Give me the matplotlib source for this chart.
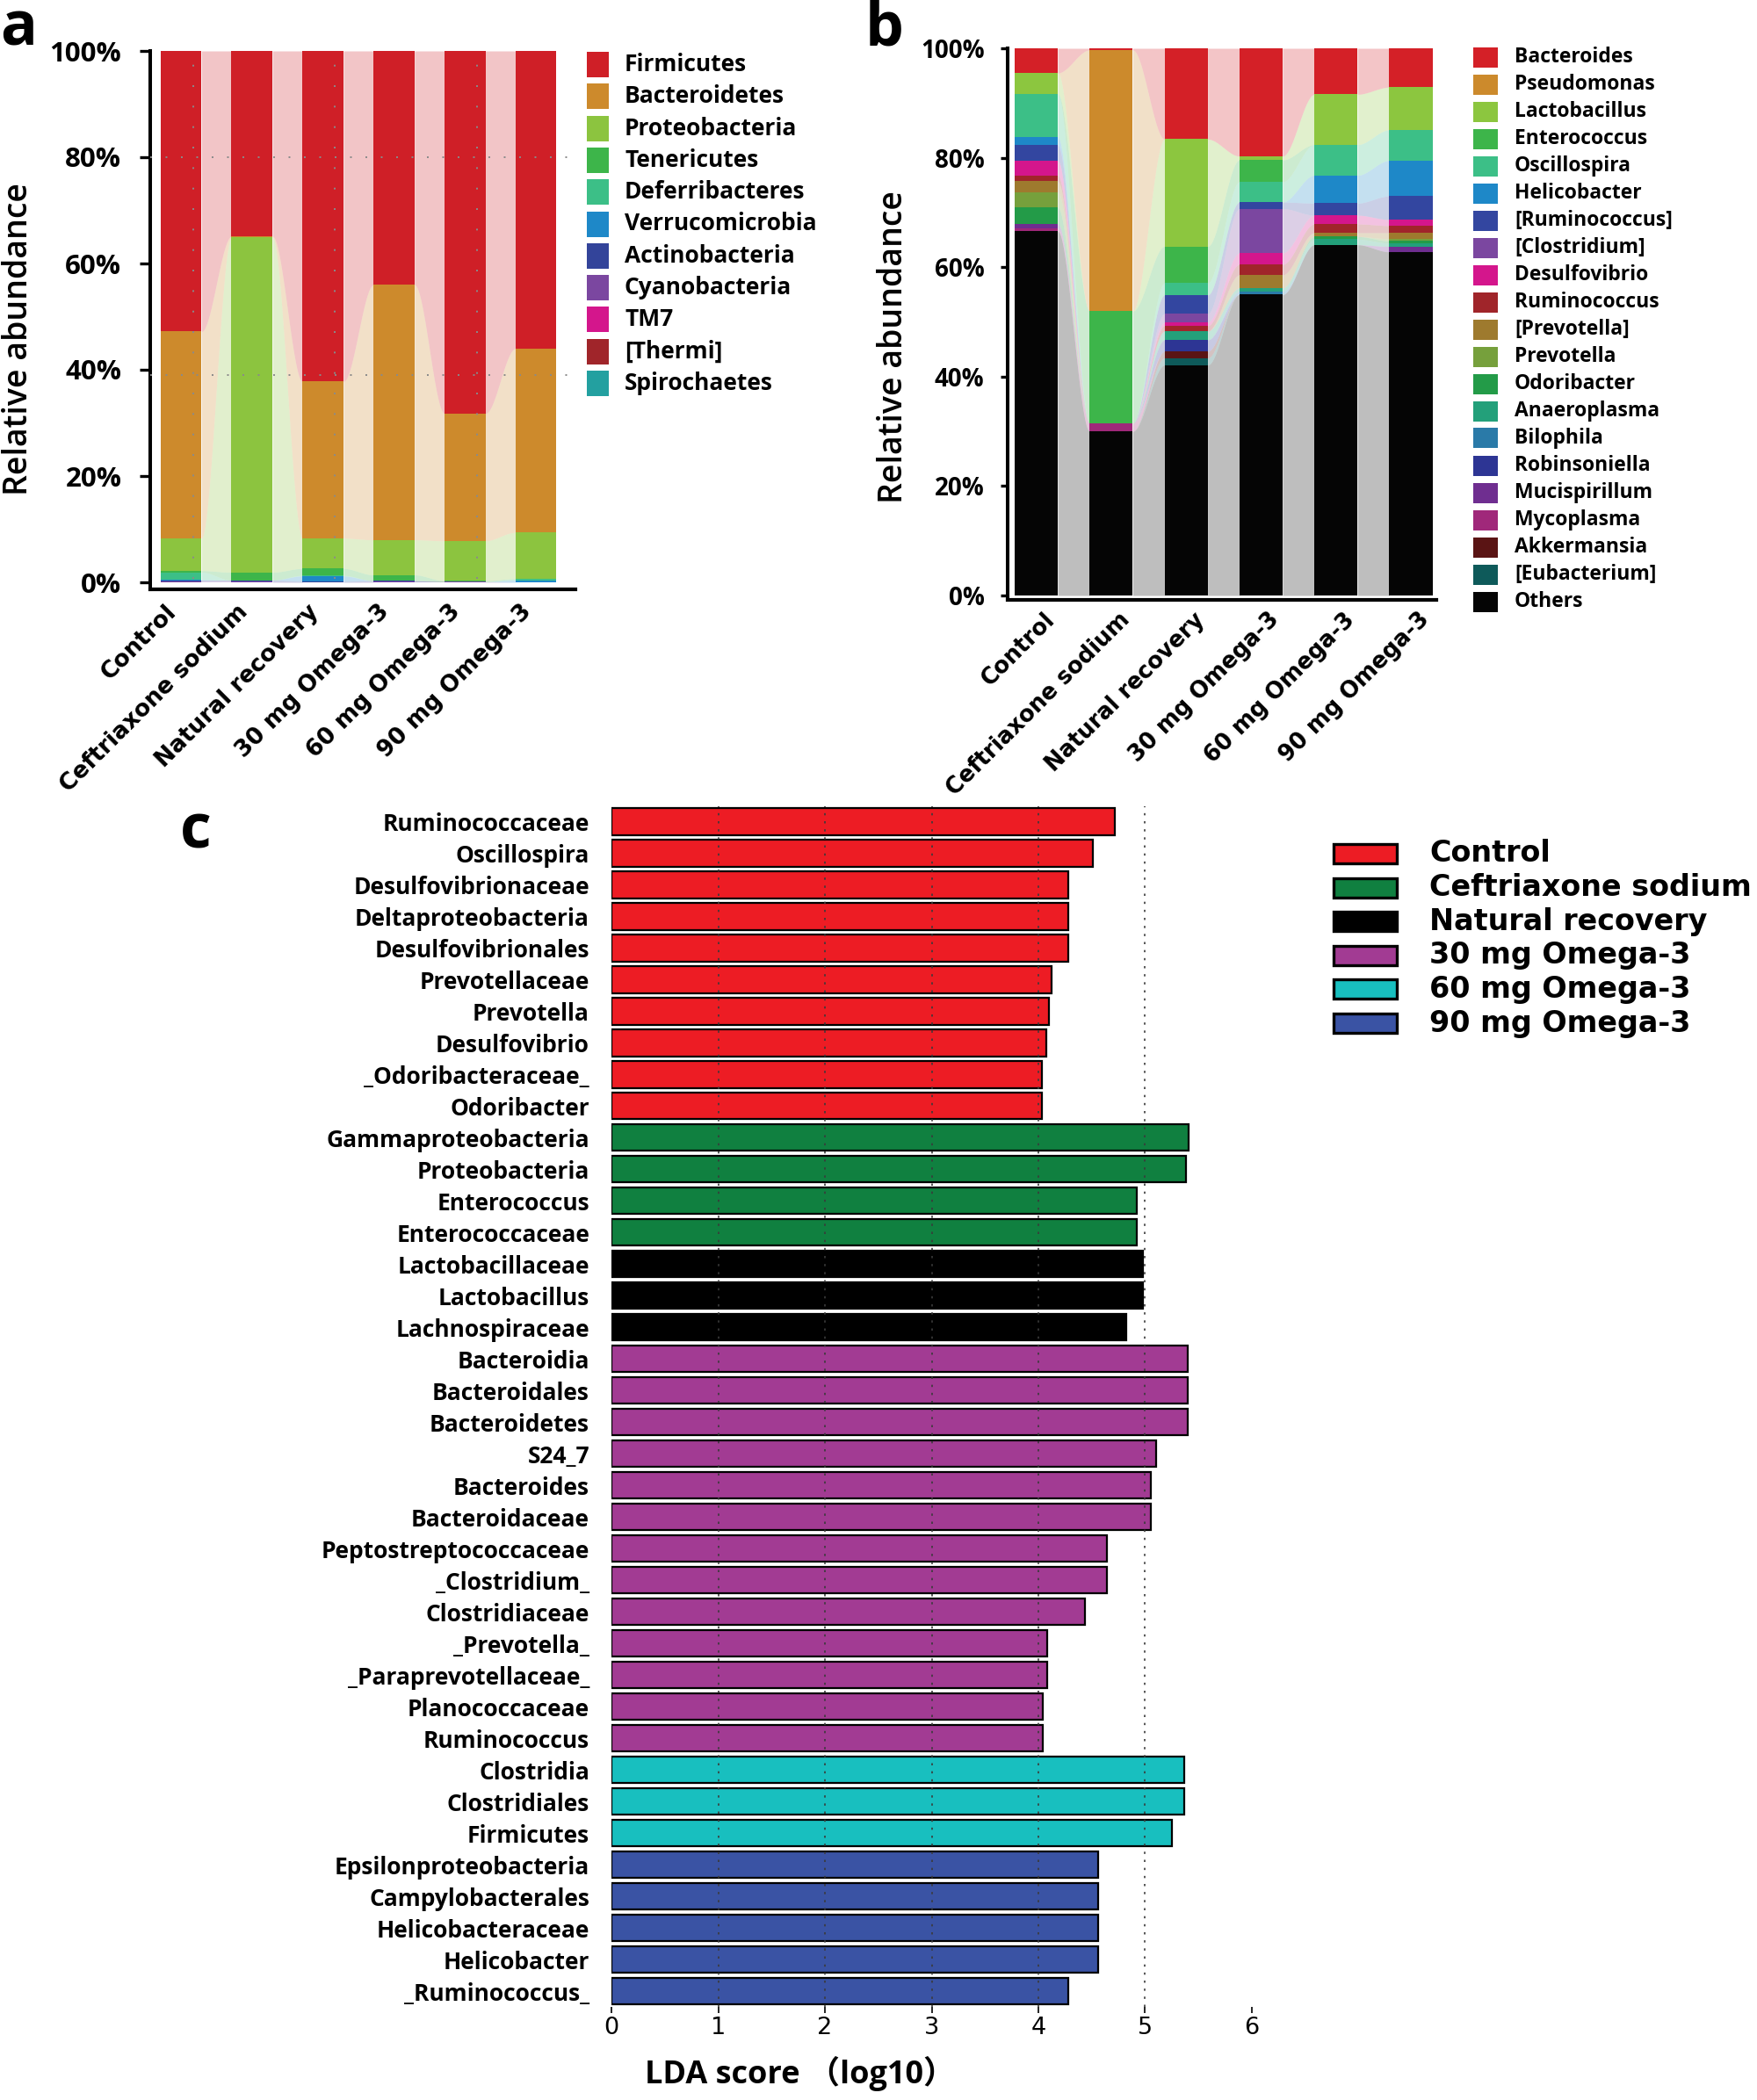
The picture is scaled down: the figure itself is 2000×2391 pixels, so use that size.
import numpy as np
import matplotlib
matplotlib.use('Agg')
import matplotlib.pyplot as plt
from matplotlib.patches import Rectangle
from matplotlib.transforms import ScaledTranslation

# ---------------- data ----------------
groups = ['Control', 'Ceftriaxone sodium', 'Natural recovery',
          '30 mg Omega-3', '60 mg Omega-3', '90 mg Omega-3']

# panel a : phylum level (%) ; legend order = top of stack first
phyla = ['Firmicutes', 'Bacteroidetes', 'Proteobacteria', 'Tenericutes',
         'Deferribacteres', 'Verrucomicrobia', 'Actinobacteria',
         'Cyanobacteria', 'TM7', '[Thermi]', 'Spirochaetes']
phyla_colors = ['#cf1f27', '#cd8a2c', '#8cc43f', '#3db54a', '#3cbf87',
                '#1e88c8', '#33449a', '#7b47a0', '#d4168c', '#a0252a', '#23a0a0']
firmicutes      = [52.8, 34.9, 62.2, 44.0, 68.2, 56.0]
bacteroidetes   = [38.9, 0.2, 29.5, 48.0, 24.0, 34.6]
proteobacteria  = [6.1, 63.0, 5.7, 6.6, 7.5, 8.7]
tenericutes     = [0.3, 1.5, 1.3, 1.1, 0.2, 0.1]
deferribacteres = [1.4, 0.0, 0.1, 0.0, 0.0, 0.2]
verrucomicrobia = [0.1, 0.0, 1.0, 0.0, 0.0, 0.4]
actinobacteria  = [0.3, 0.3, 0.2, 0.2, 0.0, 0.0]
cyanobacteria   = [0.1, 0.1, 0.0, 0.1, 0.1, 0.0]
tm7             = [0.0, 0.0, 0.0, 0.0, 0.0, 0.0]
thermi          = [0.0, 0.0, 0.0, 0.0, 0.0, 0.0]
spirochaetes    = [0.0, 0.0, 0.0, 0.0, 0.0, 0.0]
phyla_values = [firmicutes, bacteroidetes, proteobacteria, tenericutes,
                deferribacteres, verrucomicrobia, actinobacteria,
                cyanobacteria, tm7, thermi, spirochaetes]

# panel b : genus level (%)
genera = ['Bacteroides', 'Pseudomonas', 'Lactobacillus', 'Enterococcus',
          'Oscillospira', 'Helicobacter', '[Ruminococcus]', '[Clostridium]',
          'Desulfovibrio', 'Ruminococcus', '[Prevotella]', 'Prevotella',
          'Odoribacter', 'Anaeroplasma', 'Bilophila', 'Robinsoniella',
          'Mucispirillum', 'Mycoplasma', 'Akkermansia', '[Eubacterium]', 'Others']
genera_colors = ['#d42027', '#cc8a2c', '#8cc63f', '#3db54a', '#3cbf87',
                 '#1e88c8', '#3346a0', '#7b47a0', '#d4168c', '#a0252a',
                 '#9e7a2e', '#76a03c', '#239b48', '#23a07a', '#2a7aa8',
                 '#2d3594', '#6f2e90', '#a0287a', '#5a1414', '#0e5a5a', '#050505']
g_bacteroides   = [4.5, 0.3, 16.6, 19.7, 8.4, 7.1]
g_pseudomonas   = [0.0, 47.7, 0.0, 0.0, 0.0, 0.0]
g_lactobacillus = [3.8, 0.0, 19.6, 0.7, 9.2, 7.8]
g_enterococcus  = [0.0, 20.5, 6.7, 4.0, 0.0, 0.0]
g_oscillospira  = [7.9, 0.0, 2.2, 3.7, 5.6, 5.6]
g_helicobacter  = [1.5, 0.0, 0.0, 0.0, 5.1, 6.5]
g_ruminococcus_b = [2.8, 0.0, 3.4, 1.2, 2.2, 4.3]
g_clostridium_b = [0.0, 0.0, 1.6, 8.1, 0.0, 0.0]
g_desulfovibrio = [2.7, 0.0, 0.6, 2.1, 1.6, 1.1]
g_ruminococcus  = [1.1, 0.0, 1.0, 1.9, 1.6, 1.3]
g_prevotella_b  = [2.0, 0.0, 0.0, 2.4, 0.7, 1.1]
g_prevotella    = [2.8, 0.0, 0.0, 0.0, 0.0, 0.4]
g_odoribacter   = [3.0, 0.0, 0.0, 0.0, 0.5, 0.4]
g_anaeroplasma  = [0.0, 0.0, 1.6, 0.6, 1.0, 0.6]
g_bilophila     = [0.0, 0.0, 0.0, 0.6, 0.0, 0.0]
g_robinsoniella = [0.0, 0.0, 2.1, 0.0, 0.0, 0.0]
g_mucispirillum = [0.8, 0.0, 0.0, 0.0, 0.0, 1.0]
g_mycoplasma    = [0.5, 1.5, 0.0, 0.0, 0.0, 0.0]
g_akkermansia   = [0.0, 0.0, 1.2, 0.0, 0.0, 0.0]
g_eubacterium   = [0.0, 0.0, 1.3, 0.0, 0.0, 0.0]
g_others        = [66.6, 30.0, 42.1, 55.0, 64.1, 62.8]
genera_values = [g_bacteroides, g_pseudomonas, g_lactobacillus, g_enterococcus,
                 g_oscillospira, g_helicobacter, g_ruminococcus_b, g_clostridium_b,
                 g_desulfovibrio, g_ruminococcus, g_prevotella_b, g_prevotella,
                 g_odoribacter, g_anaeroplasma, g_bilophila, g_robinsoniella,
                 g_mucispirillum, g_mycoplasma, g_akkermansia, g_eubacterium, g_others]

# panel c : LEfSe LDA scores
lda_taxa = ['Ruminococcaceae', 'Oscillospira', 'Desulfovibrionaceae',
            'Deltaproteobacteria', 'Desulfovibrionales', 'Prevotellaceae',
            'Prevotella', 'Desulfovibrio', '_Odoribacteraceae_', 'Odoribacter',
            'Gammaproteobacteria', 'Proteobacteria', 'Enterococcus',
            'Enterococcaceae', 'Lactobacillaceae', 'Lactobacillus',
            'Lachnospiraceae', 'Bacteroidia', 'Bacteroidales', 'Bacteroidetes',
            'S24_7', 'Bacteroides', 'Bacteroidaceae', 'Peptostreptococcaceae',
            '_Clostridium_', 'Clostridiaceae', '_Prevotella_',
            '_Paraprevotellaceae_', 'Planococcaceae', 'Ruminococcus',
            'Clostridia', 'Clostridiales', 'Firmicutes',
            'Epsilonproteobacteria', 'Campylobacterales', 'Helicobacteraceae',
            'Helicobacter', '_Ruminococcus_']
lda_scores = [4.72, 4.51, 4.28, 4.28, 4.28, 4.12, 4.10, 4.07, 4.03, 4.03,
              5.41, 5.38, 4.92, 4.92,
              4.98, 4.98, 4.82,
              5.40, 5.40, 5.40, 5.10, 5.05, 5.05, 4.64, 4.64, 4.44, 4.08,
              4.08, 4.04, 4.04,
              5.37, 5.37, 5.25,
              4.56, 4.56, 4.56, 4.56, 4.28]
lda_group = (['Control'] * 10 + ['Ceftriaxone sodium'] * 4 +
             ['Natural recovery'] * 3 + ['30 mg Omega-3'] * 13 +
             ['60 mg Omega-3'] * 3 + ['90 mg Omega-3'] * 5)
lda_colors = {'Control': '#ed1c24', 'Ceftriaxone sodium': '#108040',
              'Natural recovery': '#000000', '30 mg Omega-3': '#a23b93',
              '60 mg Omega-3': '#18bfbf', '90 mg Omega-3': '#3a53a4'}

# ---------------- figure ----------------
W, H, DPI = 2000, 2391, 100
fig = plt.figure(figsize=(W / DPI, H / DPI), dpi=DPI)
SANS = ['Open Sans', 'DejaVu Sans']
HEAVY = ['DejaVu Sans']


def axes_px(l, t, r, b):
    return fig.add_axes([l / W, 1 - b / H, (r - l) / W, (b - t) / H])


def fx(x):
    return x / W


def fy(y):
    return 1 - y / H


def stacked_alluvial(ax, values, colors, width, alpha=0.26):
    vals = np.array(values, dtype=float) / 100.0     # seg x group
    vals = vals[::-1]                                  # bottom first
    cols = colors[::-1]
    n_seg, n_grp = vals.shape
    xs = np.arange(n_grp)
    tops = np.cumsum(vals, axis=0)
    bots = tops - vals
    for k in range(n_seg):
        ax.bar(xs, vals[k], width=width, bottom=bots[k], color=cols[k],
               linewidth=0, zorder=2)
    t = np.linspace(0, 1, 80)
    s = 3 * t ** 2 - 2 * t ** 3
    for i in range(n_grp - 1):
        x0 = xs[i] + width / 2
        x1 = xs[i + 1] - width / 2
        xx = x0 + (x1 - x0) * t
        for k in range(n_seg):
            if vals[k, i] == 0 and vals[k, i + 1] == 0:
                continue
            lo = bots[k, i] * (1 - s) + bots[k, i + 1] * s
            hi = tops[k, i] * (1 - s) + tops[k, i + 1] * s
            ax.fill_between(xx, lo, hi, color=cols[k], alpha=alpha,
                            linewidth=0, zorder=1)
    return xs


def style_stack_axes(ax, xs, ticksize, ticklen, tickpad, xpad, xoff, xsize):
    for sp in ['top', 'right']:
        ax.spines[sp].set_visible(False)
    ax.spines['left'].set_linewidth(2.9)
    ax.spines['bottom'].set_linewidth(3.0)
    ax.set_yticks([0, 0.2, 0.4, 0.6, 0.8, 1.0])
    ax.set_yticklabels(['0%', '20%', '40%', '60%', '80%', '100%'],
                       family=SANS, weight='bold', fontsize=ticksize)
    ax.tick_params(axis='y', length=ticklen, width=2.4, pad=tickpad)
    ax.set_xticks(xs)
    ax.set_xticklabels(groups, rotation=45, ha='right', va='top',
                       rotation_mode='anchor', family=HEAVY, weight='bold',
                       fontsize=xsize)
    ax.tick_params(axis='x', length=0, pad=xpad)
    off = ScaledTranslation(xoff / DPI, 0, fig.dpi_scale_trans)
    for lbl in ax.get_xticklabels():
        lbl.set_transform(lbl.get_transform() + off)


# ---------------- panel a ----------------
axa = axes_px(171, 58, 655, 671)
xs = stacked_alluvial(axa, phyla_values, phyla_colors, 0.578)
axa.set_xlim(-0.433, 5.557)
axa.set_ylim(-(671 - 663) / 605, 1.0)
style_stack_axes(axa, xs, 22.5, 8.5, 15, 9, -18, 19)
for gy in [0.8, 0.39]:
    axa.axhline(gy, color='#8a8a8a', lw=1.4, ls=(0, (1, 8)), zorder=4)
for gx in [0.17, 2.17, 4.17]:
    axa.axvline(gx, color='#8a8a8a', lw=1.4, ls=(0, (1, 11)), zorder=4,
                ymin=0.02, ymax=0.99)
axa.set_ylabel('Relative abundance', family=SANS, weight='semibold',
               fontsize=27, va='center')
axa.yaxis.set_label_coords((21 - 171) / 484, (671 - 386) / 613)

for i, (name, col) in enumerate(zip(phyla, phyla_colors)):
    yc = 73.5 + 36.3 * i
    fig.patches.append(Rectangle((fx(668), fy(yc + 14.5)), 25 / W, 29 / H,
                                 transform=fig.transFigure, color=col, lw=0))
    fig.text(fx(711), fy(yc), name, family=SANS, weight='bold', fontsize=19,
             va='center', ha='left')

# ---------------- panel b ----------------
axb = axes_px(1147, 55, 1635, 683)
xs = stacked_alluvial(axb, genera_values, genera_colors, 0.575)
axb.set_xlim(-0.381, 5.34)
axb.set_ylim(-(683 - 678) / 623, 1.0)
style_stack_axes(axb, xs, 20, 6, 13, 7, 8, 18.5)
axb.set_ylabel('Relative abundance', family=SANS, weight='semibold',
               fontsize=27, va='center')
axb.yaxis.set_label_coords((1017 - 1147) / 488, (683 - 395) / 628)

for i, (name, col) in enumerate(zip(genera, genera_colors)):
    yc = 65 + 31.0 * i
    fig.patches.append(Rectangle((fx(1677), fy(yc + 11.5)), 28 / W, 23 / H,
                                 transform=fig.transFigure, color=col, lw=0))
    fig.text(fx(1724), fy(yc), name, family=SANS, weight='bold', fontsize=16.5,
             va='center', ha='left')

# ---------------- panel c ----------------
axc = axes_px(696, 917.5, 1425, 2285)
ys = np.arange(len(lda_taxa))
axc.barh(ys, lda_scores, height=0.84,
         color=[lda_colors[g] for g in lda_group],
         edgecolor='black', linewidth=1.6, zorder=2)
axc.set_xlim(0, 6)
axc.set_ylim(len(lda_taxa) - 0.5, -0.5)
for v in [1, 2, 3, 4, 5]:
    axc.axvline(v, color='#3a3a3a', lw=1.2, ls=(0, (1.5, 4)), zorder=3)
for sp in axc.spines.values():
    sp.set_visible(False)
axc.set_yticks(ys)
axc.set_yticklabels(lda_taxa, family=SANS, weight='bold', fontsize=19)
axc.tick_params(axis='y', length=0, pad=18)
axc.set_xticks([0, 1, 2, 3, 4, 5, 6])
axc.set_xticklabels(['0', '1', '2', '3', '4', '5', '6'],
                    family=['DejaVu Sans'], fontsize=19.5)
axc.tick_params(axis='x', length=5, width=1.2, pad=3)
axc.set_xlabel('LDA score （log10）', family=['Open Sans', 'Noto Sans CJK SC'],
               weight='bold', fontsize=26, va='center')
axc.xaxis.set_label_coords((911 - 696) / 729, -(2361 - 2285) / 1367.5)

for i, g in enumerate(groups):
    yc = 972 + 38.6 * i
    fig.patches.append(Rectangle((fx(1518), fy(yc + 11)), 72 / W, 22 / H,
                                 transform=fig.transFigure,
                                 facecolor=lda_colors[g], edgecolor='black',
                                 lw=2.4))
    fig.text(fx(1627), fy(yc), g, family=HEAVY, weight='bold', fontsize=24,
             va='center', ha='left')

# ---------------- panel letters ----------------
fig.text(fx(0), fy(52), 'a', family=SANS, weight='bold', fontsize=50,
         va='baseline', ha='left')
fig.text(fx(985), fy(52), 'b', family=SANS, weight='bold', fontsize=50,
         va='baseline', ha='left')
fig.text(fx(205), fy(965), 'c', family=SANS, weight='bold', fontsize=50,
         va='baseline', ha='left')

fig.savefig('out.png', dpi=DPI, facecolor='white')
